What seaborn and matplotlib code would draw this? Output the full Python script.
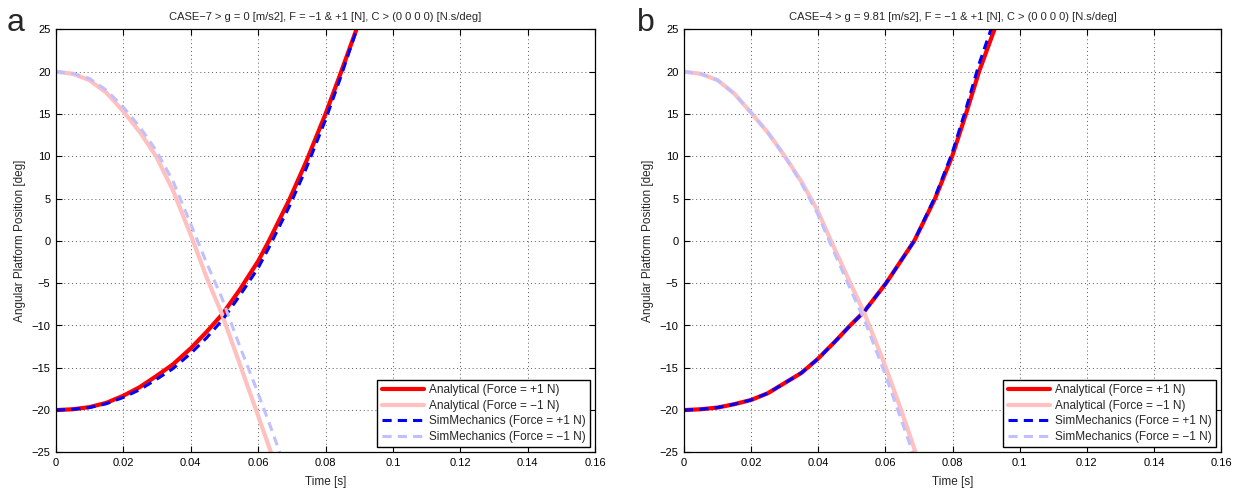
import numpy as np
import pandas as pd
import matplotlib
matplotlib.use("Agg")
import matplotlib.pyplot as plt
import seaborn as sns

# ---------------- data ----------------
# Panel a : CASE-7, g = 0
a_t_ana_pos = [0, 0.005, 0.0099, 0.0149, 0.02, 0.0248, 0.0297, 0.0347, 0.04, 0.0446,
               0.0495, 0.0545, 0.06, 0.0632, 0.0693, 0.0743, 0.08, 0.0842, 0.0891]
a_v_ana_pos = [-20, -19.9, -19.65, -19.15, -18.3, -17.3, -16.0, -14.6, -12.7, -10.8,
               -8.6, -5.8, -2.4, 0, 4.9, 9.4, 15, 19.5, 24.9]
a_v_sim_pos = [-20, -19.9, -19.7, -19.25, -18.5, -17.6, -16.4, -15.1, -13.3, -11.5,
               -9.3, -6.5, -3.2, -0.8, 4.1, 8.6, 14.3, 19.0, 24.8]

a_t_ana_neg = [0, 0.005, 0.0099, 0.015, 0.02, 0.025, 0.0297, 0.0347, 0.0404, 0.0446,
               0.0492, 0.0545, 0.0594, 0.0639]
a_v_ana_neg = [20, 19.75, 19.0, 17.5, 15.3, 12.8, 10.0, 6.0, 0.3, -4.2,
               -8.6, -14.5, -20, -25.1]
a_t_sim_neg = [0, 0.005, 0.0099, 0.015, 0.02, 0.025, 0.0297, 0.0347, 0.0404, 0.0446,
               0.0492, 0.0545, 0.0594, 0.0639, 0.0665]
a_v_sim_neg = [20, 19.8, 19.2, 17.8, 15.8, 13.4, 10.7, 7.1, 1.6, -2.5,
               -6.7, -12.4, -17.4, -22.2, -25.1]

# Panel b : CASE-4, g = 9.81
b_t_pos = [0, 0.005, 0.01, 0.015, 0.02, 0.025, 0.03, 0.035, 0.04, 0.045, 0.0495,
           0.0536, 0.0602, 0.0686, 0.0748, 0.0799, 0.084, 0.0879, 0.0925]
b_v_ana_pos = [-20, -19.9, -19.7, -19.3, -18.8, -18.0, -16.8, -15.6, -13.9, -11.9, -10.0,
               -8.4, -5.0, 0, 5, 10, 15, 20, 25]
b_v_sim_pos = [-20, -19.9, -19.7, -19.3, -18.8, -18.0, -16.8, -15.6, -13.9, -11.9, -10.0,
               -8.4, -5.0, 0, 5.2, 10.4, 15.6, 20.9, 26.2]

b_t_neg = [0, 0.005, 0.01, 0.015, 0.0201, 0.025, 0.0298, 0.035, 0.0398, 0.0438,
           0.0498, 0.0537, 0.0597, 0.0647, 0.069]
b_v_ana_neg = [20, 19.75, 19.0, 17.4, 15.1, 12.8, 10.15, 7.0, 3.6, 0,
               -5.2, -8.5, -14.5, -20, -25]
b_v_sim_neg = [20, 19.75, 19.0, 17.4, 15.1, 12.8, 10.15, 6.8, 3.2, -0.5,
               -5.9, -9.3, -15.5, -21.1, -26]

titles = ["CASE\u22127 > g = 0 [m/s2], F = \u22121 & +1 [N], C > (0 0 0 0) [N.s/deg]",
          "CASE\u22124 > g = 9.81 [m/s2], F = \u22121 & +1 [N], C > (0 0 0 0) [N.s/deg]"]
panel_letters = ["a", "b"]
labels = ["Analytical (Force = +1 N)", "Analytical (Force = \u22121 N)",
          "SimMechanics (Force = +1 N)", "SimMechanics (Force = \u22121 N)"]
x_ticks = [0, 0.02, 0.04, 0.06, 0.08, 0.1, 0.12, 0.14, 0.16]
x_ticklabels = ["0", "0.02", "0.04", "0.06", "0.08", "0.1", "0.12", "0.14", "0.16"]
y_ticks = [-25, -20, -15, -10, -5, 0, 5, 10, 15, 20, 25]

panels = [
    [(a_t_ana_pos, a_v_ana_pos), (a_t_ana_neg, a_v_ana_neg),
     (a_t_ana_pos, a_v_sim_pos), (a_t_sim_neg, a_v_sim_neg)],
    [(b_t_pos, b_v_ana_pos), (b_t_neg, b_v_ana_neg),
     (b_t_pos, b_v_sim_pos), (b_t_neg, b_v_sim_neg)],
]

# ---------------- style ----------------
sns.set_style("ticks")
plt.rcParams["font.family"] = ["Liberation Sans", "DejaVu Sans"]
plt.rcParams["axes.unicode_minus"] = True

colors = ["#ff0000", "#ffc0c0", "#0000ff", "#c0c0ff"]
dashed = [False, False, True, True]
widths = [3.0, 3.0, 2.2, 2.2]

fig = plt.figure(figsize=(12.46, 4.94), dpi=100)
W, H = 1246, 494
ax_pos = [(56, 595), (684, 1221)]
top_px, bot_px = 29.4, 452.4
letter_x = [7, 637]

for i, (x0, x1) in enumerate(ax_pos):
    ax = fig.add_axes([x0 / W, 1 - bot_px / H, (x1 - x0) / W, (bot_px - top_px) / H])
    for k, (t, v) in enumerate(panels[i]):
        df = pd.DataFrame({"t": t, "v": v})
        sns.lineplot(data=df, x="t", y="v", ax=ax, estimator=None, sort=False,
                     color=colors[k], linewidth=widths[k], label=labels[k],
                     linestyle="--" if dashed[k] else "-")
        if dashed[k]:
            ax.lines[-1].set_dashes((3, 2))
    ax.set_xlim(0, 0.16)
    ax.set_ylim(-25, 25)
    ax.set_xticks(x_ticks)
    ax.set_xticklabels(x_ticklabels)
    ax.set_yticks(y_ticks)
    ax.grid(True, linestyle=(0, (1, 3)), color="0.35", linewidth=0.7)
    ax.tick_params(direction="in", top=True, right=True, length=4.5, width=0.8,
                   labelsize=8, colors="black", pad=4)
    for sp in ax.spines.values():
        sp.set_visible(True)
        sp.set_linewidth(0.9)
        sp.set_color("black")
    ax.set_xlabel("Time [s]", fontsize=8.5, labelpad=6)
    ax.set_ylabel("Angular Platform Position [deg]", fontsize=8.5, labelpad=4)
    ax.set_title(titles[i], fontsize=8, pad=7)
    leg = ax.legend(loc="lower right", fontsize=8.5, frameon=True, fancybox=False,
                    edgecolor="black", framealpha=1, handlelength=3.6,
                    labelspacing=0.3, borderpad=0.35, borderaxespad=0.45,
                    handletextpad=0.4)
    leg.get_frame().set_linewidth(1.0)
    fig.text(letter_x[i] / W, 1 - 31 / H, panel_letters[i], fontsize=23,
             ha="left", va="baseline")

fig.savefig("out.png", dpi=100)
